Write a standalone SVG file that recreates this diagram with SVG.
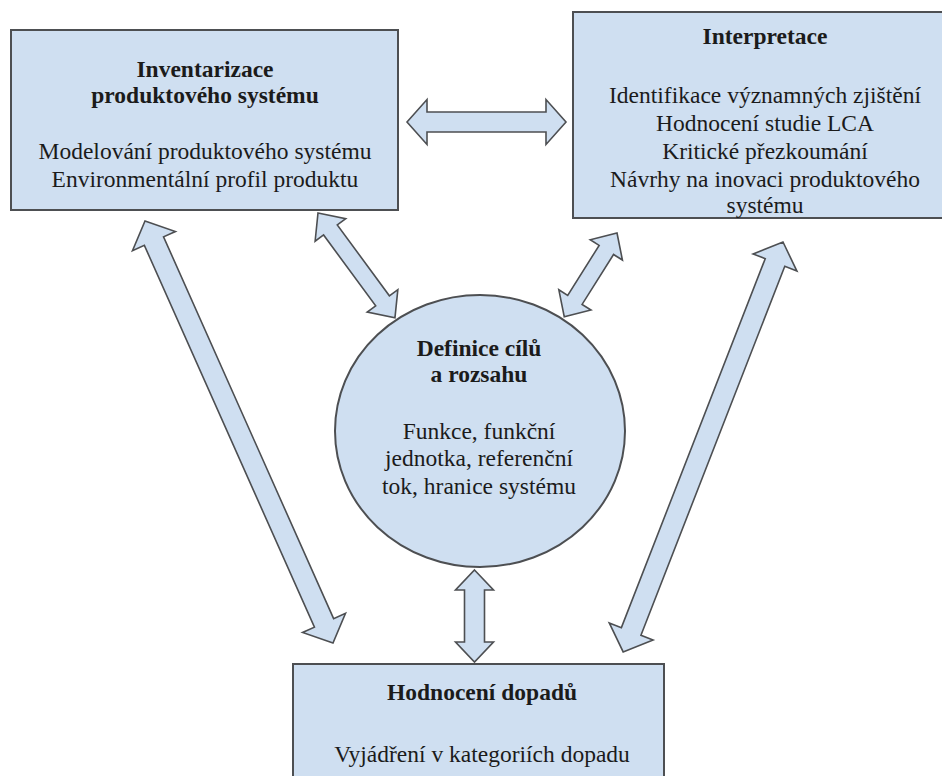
<svg xmlns="http://www.w3.org/2000/svg" width="942" height="776" viewBox="0 0 942 776">
  <style>
    .box { fill: #cfdff1; stroke: #4d4f52; stroke-width: 2; }
    .arrow { fill: #cfdff1; stroke: #4d4f52; stroke-width: 1.6; stroke-linejoin: miter; }
    text { font-family: 'Liberation Serif', Tinos, 'DejaVu Serif', serif; font-size: 23.5px; fill: #1b1b1b; text-anchor: middle; }
    .title { font-weight: bold; }
  </style>
  <rect width="942" height="776" fill="#ffffff"/>

  <!-- double-headed block arrows -->
  <g id="connectors">
    <!-- Inventarizace <-> Interpretace -->
    <path class="arrow" transform="translate(407,122)" d="M0,0 L20,-22.5 L20,-10 L139,-10 L139,-22.5 L159,0 L139,22.5 L139,10 L20,10 L20,22.5 Z"/>
    <!-- Inventarizace <-> Hodnocení dopadů -->
    <path class="arrow" transform="translate(145,221) rotate(65.99)" d="M0,0 L22,-23.5 L22,-10.5 L440,-10.5 L440,-23.5 L462,0 L440,23.5 L440,10.5 L22,10.5 L22,23.5 Z"/>
    <!-- Inventarizace <-> Definice -->
    <path class="arrow" transform="translate(318,213) rotate(53.7)" d="M0,0 L21,-19 L21,-8.5 L109,-8.5 L109,-19 L130,0 L109,19 L109,8.5 L21,8.5 L21,19 Z"/>
    <!-- Interpretace <-> Definice -->
    <path class="arrow" transform="translate(617,233) rotate(122.2)" d="M0,0 L20,-19 L20,-8.5 L79,-8.5 L79,-19 L99,0 L79,19 L79,8.5 L20,8.5 L20,19 Z"/>
    <!-- Interpretace <-> Hodnocení dopadů -->
    <path class="arrow" transform="translate(783,242) rotate(111.3)" d="M0,0 L22,-23.5 L22,-10.5 L418,-10.5 L418,-23.5 L440,0 L418,23.5 L418,10.5 L22,10.5 L22,23.5 Z"/>
    <!-- Definice <-> Hodnocení dopadů -->
    <path class="arrow" transform="translate(474.5,570) rotate(90)" d="M0,0 L20,-19 L20,-10 L72,-10 L72,-19 L92,0 L72,19 L72,10 L20,10 L20,19 Z"/>
  </g>

  <g id="inventarizace">
    <rect class="box" x="11" y="30" width="387" height="180"/>
    <text class="title" x="205" y="77">Inventarizace</text>
    <text class="title" x="205" y="103">produktového systému</text>
    <text x="205" y="159">Modelování produktového systému</text>
    <text x="205" y="187">Environmentální profil produktu</text>
  </g>

  <g id="interpretace">
    <rect class="box" x="573" y="12" width="390" height="206"/>
    <text class="title" x="765" y="44">Interpretace</text>
    <text x="765" y="103">Identifikace významných zjištění</text>
    <text x="765" y="131">Hodnocení studie LCA</text>
    <text x="765" y="159">Kritické přezkoumání</text>
    <text x="765" y="187">Návrhy na inovaci produktového</text>
    <text x="765" y="213">systému</text>
  </g>

  <g id="definice">
    <ellipse class="box" cx="480" cy="431" rx="145" ry="136"/>
    <text class="title" x="479" y="356">Definice cílů</text>
    <text class="title" x="479" y="382">a rozsahu</text>
    <text x="479" y="439">Funkce, funkční</text>
    <text x="479" y="466">jednotka, referenční</text>
    <text x="479" y="494">tok, hranice systému</text>
  </g>

  <g id="hodnoceni">
    <rect class="box" x="293" y="664" width="371" height="120"/>
    <text class="title" x="482" y="700">Hodnocení dopadů</text>
    <text x="482" y="762">Vyjádření v kategoriích dopadu</text>
  </g>
</svg>
